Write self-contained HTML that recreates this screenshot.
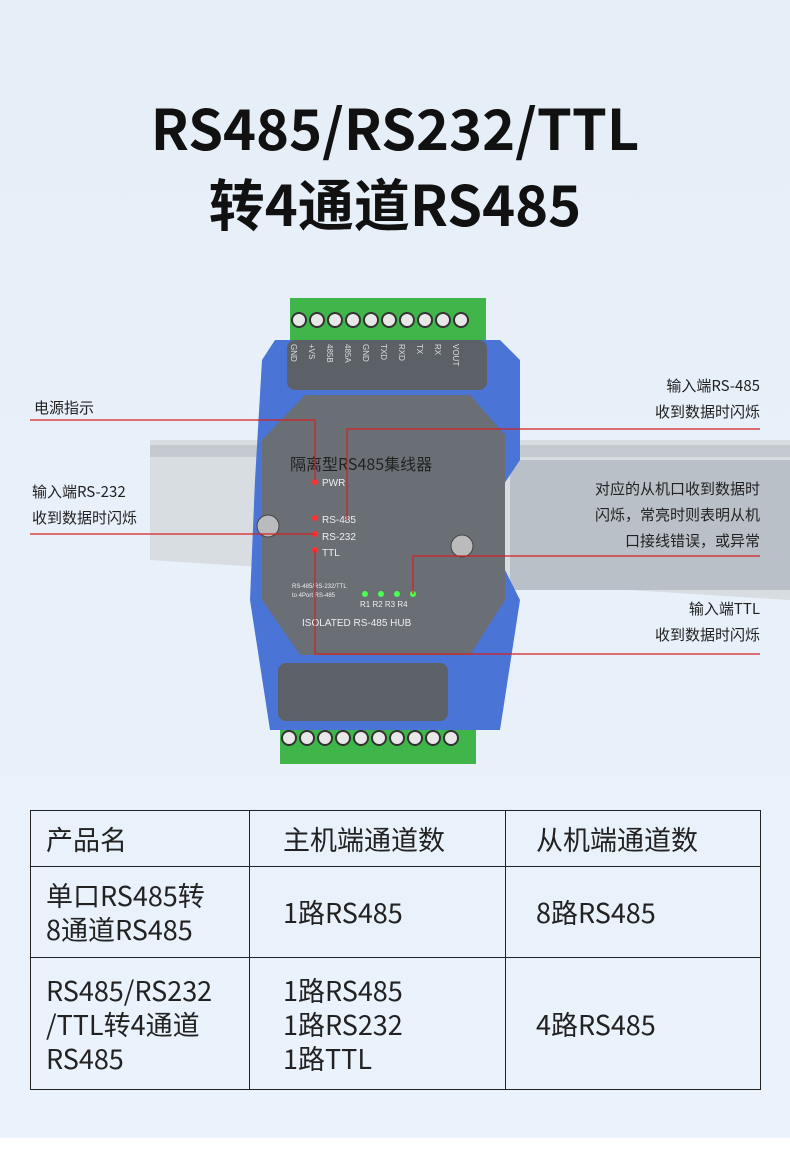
<!DOCTYPE html>
<html><head><meta charset="utf-8"><style>
body{margin:0;width:790px;height:1160px;background:#fff;font-family:"Liberation Sans","Noto Sans CJK SC",sans-serif;overflow:hidden}
.bg{position:absolute;left:0;top:0;width:790px;height:1138px;background:linear-gradient(#e6eef7,#eaf2fc)}
.t{position:absolute;left:0;width:790px;text-align:center;font-weight:bold;font-size:56px;color:#111;font-family:"Noto Sans CJK SC",sans-serif}
.lab{position:absolute;font-size:15px;color:#222;line-height:26px;font-family:"Noto Sans CJK SC",sans-serif}
table{position:absolute;left:30px;top:810px;border-collapse:collapse;font-family:"Noto Sans CJK SC",sans-serif;font-size:27px;color:#222}
td{border:1.5px solid #222;vertical-align:middle;line-height:34px;padding:0 0 0 15px}
</style></head><body>
<div class="bg"></div>
<div class="t" style="top:86px">RS485/RS232/TTL</div>
<div class="t" style="top:162px">转4通道RS485</div>
<svg style="position:absolute;left:0;top:0" width="790" height="800">
<polygon points="150,440 790,440 790,600 150,560" fill="#d8dde2"/>
<rect x="150" y="445" width="640" height="12" fill="#c4cad0"/>
<rect x="510" y="460" width="280" height="130" fill="#b9c0c7"/>
<rect x="290" y="298" width="196" height="42" fill="#3fb54a"/>
<g fill="#e8e8e8" stroke="#333" stroke-width="2">
<circle cx="299" cy="320" r="7"/><circle cx="317" cy="320" r="7"/><circle cx="335" cy="320" r="7"/><circle cx="353" cy="320" r="7"/><circle cx="371" cy="320" r="7"/><circle cx="389" cy="320" r="7"/><circle cx="407" cy="320" r="7"/><circle cx="425" cy="320" r="7"/><circle cx="443" cy="320" r="7"/><circle cx="461" cy="320" r="7"/></g>
<rect x="280" y="722" width="196" height="42" fill="#3fb54a"/>
<g fill="#e8e8e8" stroke="#333" stroke-width="2">
<circle cx="289" cy="738" r="7"/><circle cx="307" cy="738" r="7"/><circle cx="325" cy="738" r="7"/><circle cx="343" cy="738" r="7"/><circle cx="361" cy="738" r="7"/><circle cx="379" cy="738" r="7"/><circle cx="397" cy="738" r="7"/><circle cx="415" cy="738" r="7"/><circle cx="433" cy="738" r="7"/><circle cx="451" cy="738" r="7"/></g>
<path d="M275,340 L500,340 L520,360 L520,460 L500,490 L500,560 L520,600 L500,730 L270,730 L250,600 L255,480 L262,360 Z" fill="#4a74d6"/>
<rect x="287" y="340" width="200" height="50" rx="8" fill="#5c6168"/>
<rect x="278" y="663" width="170" height="58" rx="8" fill="#5c6168"/>
<polygon points="305,395 470,395 505,435 505,600 470,655 300,655 262,600 262,440" fill="#6a6f76"/>
<circle cx="268" cy="526" r="11" fill="#bbb" stroke="#444"/>
<circle cx="462" cy="546" r="11" fill="#bbb" stroke="#444"/>
<g font-size="8" fill="#ddd" font-family="Liberation Sans">
<text transform="translate(291,344) rotate(90)">GND</text><text transform="translate(309,344) rotate(90)">+VS</text><text transform="translate(327,344) rotate(90)">485B</text><text transform="translate(345,344) rotate(90)">485A</text><text transform="translate(363,344) rotate(90)">GND</text><text transform="translate(381,344) rotate(90)">TXD</text><text transform="translate(399,344) rotate(90)">RXD</text><text transform="translate(417,344) rotate(90)">TX</text><text transform="translate(435,344) rotate(90)">RX</text><text transform="translate(453,344) rotate(90)">VOUT</text>
</g>
<text x="290" y="470" font-size="16" fill="#222" font-family="Noto Sans CJK SC">隔离型RS485集线器</text>
<g font-size="10" fill="#eee" font-family="Liberation Sans">
<text x="322" y="486">PWR</text><text x="322" y="523">RS-485</text><text x="322" y="540">RS-232</text><text x="322" y="556">TTL</text>
<text x="302" y="626" fill="#eee">ISOLATED RS-485 HUB</text>
<text x="360" y="607" font-size="8">R1  R2  R3  R4</text>
<text x="292" y="588" font-size="6">RS-485/RS-232/TTL</text><text x="292" y="597" font-size="6">to 4Port RS-485</text></g>
<g fill="#ff3030"><circle cx="315" cy="482" r="3"/><circle cx="315" cy="518" r="3"/><circle cx="315" cy="534" r="3"/><circle cx="315" cy="550" r="3"/></g>
<g fill="#4cff4c"><circle cx="365" cy="594" r="3"/><circle cx="381" cy="594" r="3"/><circle cx="397" cy="594" r="3"/><circle cx="413" cy="594" r="3"/></g>
<g stroke="#d42020" stroke-width="1.2" fill="none">
<polyline points="30,420 315,420 315,480"/>
<polyline points="760,429 347,429 347,520"/>
<polyline points="30,534 315,534"/>
<polyline points="760,556 413,556 413,594"/>
<polyline points="760,654 315,654 315,550"/>
</g>
</svg>
<div class="lab" style="left:34px;top:395px">电源指示</div>
<div class="lab" style="left:600px;top:373px;text-align:right;width:160px">输入端RS-485<br>收到数据时闪烁</div>
<div class="lab" style="left:32px;top:479px">输入端RS-232<br>收到数据时闪烁</div>
<div class="lab" style="left:540px;top:476px;text-align:right;width:220px">对应的从机口收到数据时<br>闪烁，常亮时则表明从机<br>口接线错误，或异常</div>
<div class="lab" style="left:600px;top:596px;text-align:right;width:160px">输入端TTL<br>收到数据时闪烁</div>
<table>
<tr style="height:56px"><td style="width:203px">产品名</td><td style="width:222px;padding-left:33px">主机端通道数</td><td style="width:224px;padding-left:30px">从机端通道数</td></tr>
<tr style="height:91px"><td>单口RS485转<br>8通道RS485</td><td style="padding-left:33px">1路RS485</td><td style="padding-left:30px">8路RS485</td></tr>
<tr style="height:132px"><td>RS485/RS232<br>/TTL转4通道<br>RS485</td><td style="padding-left:33px">1路RS485<br>1路RS232<br>1路TTL</td><td style="padding-left:30px">4路RS485</td></tr>
</table>
</body></html>
